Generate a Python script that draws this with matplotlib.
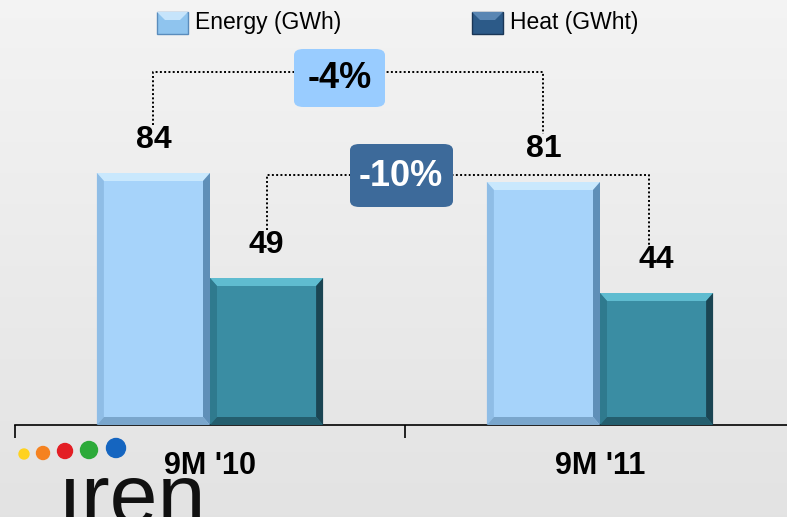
import numpy as np
import matplotlib.pyplot as plt
import matplotlib.patches as mpatches
from matplotlib.patches import FancyBboxPatch, Polygon, Rectangle

plt.rcParams['font.family'] = ['Liberation Sans', 'DejaVu Sans']

# data
categories = ["9M '10", "9M '11"]
energy = [84, 81]
heat = [49, 44]
series_names = ["Energy (GWh)", "Heat (GWht)"]
delta_energy = "-4%"
delta_heat = "-10%"

W, H = 787, 517
def fx(px):
    return px / W
def fy(py):
    return 1 - py / H

fig = plt.figure(figsize=(W / 100, H / 100), dpi=100)

# light grey gradient background
bg = fig.add_axes([0, 0, 1, 1], zorder=-5)
grad = np.linspace(0.955, 0.89, 256).reshape(-1, 1)
bg.imshow(np.dstack([grad, grad, grad]), aspect='auto', extent=[0, 1, 0, 1])
bg.axis('off')

ax = fig.add_axes([fx(15), 92 / H, 772 / W, 425 / H])
ax.set_facecolor('none')
ax.set_xlim(-0.5, -0.5 + 772 / 390)
ax.set_ylim(0, 425 / 3)

bw = 0.29
x = np.arange(len(categories))
col_e = '#a6d3fa'
col_h = '#3a8da3'
bars_e = ax.bar(x - bw / 2, energy, bw, color=col_e, zorder=2)
bars_h = ax.bar(x + bw / 2, heat, bw, color=col_h, zorder=2)

# bevel edges
bx = 7 / 390
by = 8 / 3
def bevel(bar, top, left, right, bottom):
    x0 = bar.get_x()
    x1 = x0 + bar.get_width()
    h = bar.get_height()
    ax.add_patch(Polygon([(x0, h), (x1, h), (x1 - bx, h - by), (x0 + bx, h - by)],
                         color=top, zorder=3, lw=0))
    ax.add_patch(Polygon([(x0, 0), (x0, h), (x0 + bx, h - by), (x0 + bx, by)],
                         color=left, zorder=3, lw=0))
    ax.add_patch(Polygon([(x1, 0), (x1, h), (x1 - bx, h - by), (x1 - bx, by)],
                         color=right, zorder=3, lw=0))
    ax.add_patch(Polygon([(x0, 0), (x1, 0), (x1 - bx, by), (x0 + bx, by)],
                         color=bottom, zorder=3, lw=0))

for b in bars_e:
    bevel(b, '#c9e8fd', '#8fbde6', '#5f8fb8', '#7aa6cc')
for b in bars_h:
    bevel(b, '#5fbcd0', '#2f7a8e', '#1b4553', '#245e6e')

# value labels
for xi, v in zip(x - bw / 2, energy):
    ax.text(xi, v + 11, str(v), ha='center', va='center', fontsize=23,
            fontweight='bold', color='black', zorder=5)
for xi, v in zip(x + bw / 2, heat):
    ax.text(xi, v + 11, str(v), ha='center', va='center', fontsize=23,
            fontweight='bold', color='black', zorder=5)

# brackets
dot = dict(color='black', lw=1.4, linestyle=(0, (1, 1.2)), zorder=4, clip_on=False)
ye = (425 - 72) / 3
ax.plot([x[0] - bw / 2, x[0] - bw / 2, x[1] - bw / 2, x[1] - bw / 2],
        [energy[0] + 16, ye, ye, energy[1] + 16], **dot)
yh = (425 - 175) / 3
ax.plot([x[0] + bw / 2, x[0] + bw / 2, x[1] + bw / 2 - 0.02, x[1] + bw / 2 - 0.02],
        [heat[0] + 16, yh, yh, heat[1] + 16], **dot)

box1 = FancyBboxPatch((fx(294), fy(107)), fx(91), 58 / H,
                      boxstyle='round,pad=0,rounding_size=0.012',
                      transform=fig.transFigure, facecolor='#99ccff',
                      edgecolor='none', zorder=6)
fig.patches.append(box1)
fig.text(fx(340), fy(79), delta_energy, ha='center', va='center', fontsize=26,
         fontweight='bold', color='black', zorder=7)

box2 = FancyBboxPatch((fx(350), fy(207)), fx(103), 63 / H,
                      boxstyle='round,pad=0,rounding_size=0.012',
                      transform=fig.transFigure, facecolor='#3d6a9a',
                      edgecolor='none', zorder=6)
fig.patches.append(box2)
fig.text(fx(401), fy(177), delta_heat, ha='center', va='center', fontsize=26,
         fontweight='bold', color='white', zorder=7)

# axis
for s in ['top', 'left', 'right']:
    ax.spines[s].set_visible(False)
ax.spines['bottom'].set_linewidth(1.2)
ax.set_yticks([])
ax.set_xticks([-0.5, 0.5])
ax.set_xticklabels([])
ax.tick_params(axis='x', direction='out', length=9, width=1.2, color='black')
for xi, c in zip(x, categories):
    ax.text(xi, -13.5, c, ha='center', va='center', fontsize=22,
            fontweight='bold', color='black', zorder=10, clip_on=False)

# legend
leg_items = [(157, series_names[0], '#8fc4ee', '#c6e4fb', '#5a8cbc'),
             (472, series_names[1], '#2c5a88', '#5a86b3', '#1a3656')]
for px, name, c, ctop, cdark in leg_items:
    fig.patches.append(Rectangle((fx(px), fy(34)), fx(31), 22 / H,
                                 transform=fig.transFigure, facecolor=c,
                                 edgecolor=cdark, lw=1.0))
    fig.patches.append(Polygon([(fx(px), fy(12)), (fx(px + 31), fy(12)),
                                (fx(px + 23), fy(20)), (fx(px + 8), fy(20))],
                               closed=True, transform=fig.transFigure,
                               facecolor=ctop, edgecolor='none'))
    fig.text(fx(px + 38), fy(23), name, ha='left', va='center', fontsize=16.5,
             color='black')

# iren logo
dots = [(24, 454, 5, '#ffd21f'), (43, 453, 6.5, '#f58220'),
        (65, 451, 7.5, '#e31e24'), (89, 450, 8.5, '#2daa3a'),
        (116, 448, 9.5, '#1565c0')]
for cx, cy, r, c in dots:
    fig.patches.append(mpatches.Ellipse((fx(cx), fy(cy)), 2 * r / W, 2 * r / H,
                                        transform=fig.transFigure, color=c))
fig.text(fx(58), fy(524), '\u0131ren', ha='left', va='baseline', fontsize=62,
         color='#111111', zorder=1)

fig.savefig('out.png', dpi=100)
